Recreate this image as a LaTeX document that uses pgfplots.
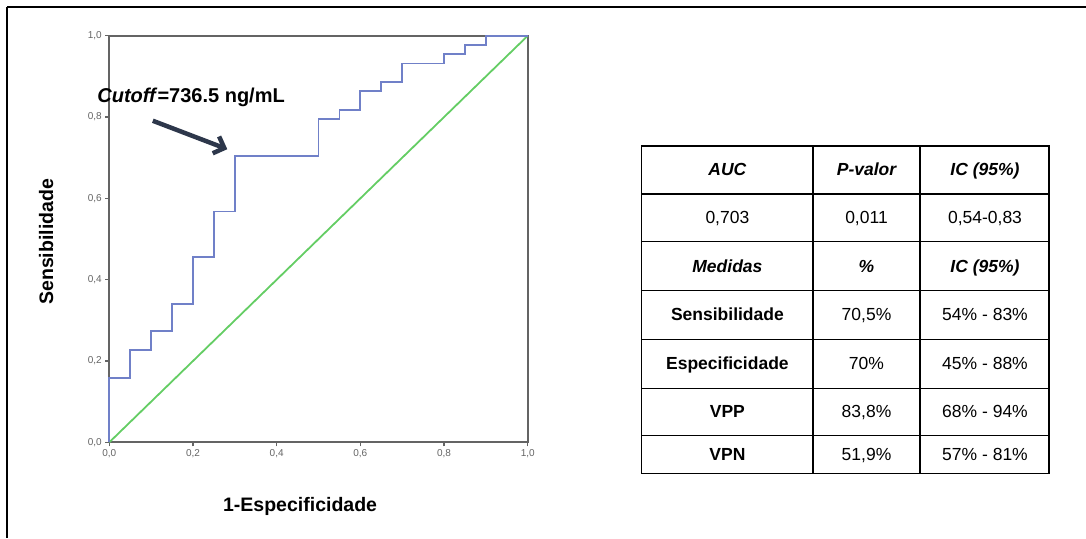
\documentclass[border=0pt]{standalone}
\usepackage{fontspec}
\setmainfont{Liberation Sans}
\usepackage{pgfplots}
\pgfplotsset{compat=1.18}
\usetikzlibrary{arrows.meta}
\definecolor{roc}{RGB}{112,128,200}
\definecolor{refl}{RGB}{100,205,100}
\definecolor{arr}{RGB}{45,55,75}
\definecolor{axg}{RGB}{100,100,100}
\begin{document}
\begin{tikzpicture}[x=1pt,y=1pt]
\useasboundingbox (0pt,0pt) rectangle (1086pt,538pt);
\draw[line width=2pt] (7pt,531pt) -- (1086pt,531pt);
\draw[line width=1.3pt] (7pt,531pt) -- (7pt,0pt);
\begin{axis}[at={(109.3pt,95.7pt)}, anchor=south west,
  scale only axis, width=418.4pt, height=406.5pt,
  xmin=0, xmax=1, ymin=0, ymax=1, clip=false,
  xtick={0,0.2,0.4,0.6,0.8,1}, ytick={0,0.2,0.4,0.6,0.8,1},
  xtick pos=bottom, ytick pos=left, tick align=outside,
  major tick length=4pt, tick style={axg, line width=1.2pt},
  axis line style={axg, line width=2pt},
  ticklabel style={font=\fontsize{10}{10}\selectfont, text=axg},
  /pgf/number format/use comma, /pgf/number format/fixed,
  /pgf/number format/fixed zerofill, /pgf/number format/precision=1,
  /pgf/number format/assume math mode=true,
  xlabel={1-Especificidade}, ylabel={Sensibilidade},
  label style={font=\bfseries\fontsize{19.5}{19.5}\selectfont},
  xlabel style={at={(axis description cs:0.456,-0.157)}, anchor=center},
  ylabel style={at={(axis description cs:-0.151,0.493)}, anchor=center},
]
\addplot[refl, line width=1.8pt] coordinates {(0,0) (1,1)};
\addplot[roc, line width=1.8pt] coordinates {
(0,0)(0,0.159)(0.05,0.159)(0.05,0.227)(0.10,0.227)(0.10,0.273)(0.15,0.273)(0.15,0.341)
(0.20,0.341)(0.20,0.455)(0.25,0.455)(0.25,0.568)(0.30,0.568)(0.30,0.705)(0.50,0.705)
(0.50,0.795)(0.55,0.795)(0.55,0.818)(0.60,0.818)(0.60,0.864)(0.65,0.864)(0.65,0.886)
(0.70,0.886)(0.70,0.932)(0.80,0.932)(0.80,0.955)(0.85,0.955)(0.85,0.977)(0.90,0.977)
(0.90,1)(1,1)};
\node[anchor=base west, font=\bfseries\fontsize{20}{20}\selectfont, inner sep=0pt]
  at (axis cs:-0.029,0.836) {\textit{Cutoff\/}=736.5 ng/mL};
\draw[arr, line width=4.5pt, -{Straight Barb[length=9pt,width=18pt]}]
  (axis cs:0.104,0.791) -- (axis cs:0.282,0.721);
\end{axis}
% table
\begin{scope}[line width=1.4pt]
\draw (641.7pt,392pt) rectangle (1049pt,64.7pt);
\foreach \yy in {344,296.3,247.3,198.7,149.7,102.3} \draw (641.7pt,\yy pt) -- (1049pt,\yy pt);
\draw (813pt,392pt) -- (813pt,64.7pt);
\draw (920pt,392pt) -- (920pt,64.7pt);
\end{scope}
\tikzset{tc/.style={anchor=base, inner sep=0pt, font=\fontsize{17.5}{17.5}\selectfont}}
\def\cA{727.4pt}\def\cB{866.5pt}\def\cC{985pt}
\node[tc] at (\cA,362pt) {\bfseries\itshape AUC};
\node[tc] at (\cB,362pt) {\bfseries\itshape P-valor};
\node[tc] at (\cC,362pt) {\bfseries\itshape IC (95\%)};
\node[tc] at (\cA,314.1pt) {0,703};
\node[tc] at (\cB,314.1pt) {0,011};
\node[tc] at (\cC,314.1pt) {0,54-0,83};
\node[tc] at (\cA,265.8pt) {\bfseries\itshape Medidas};
\node[tc] at (\cB,265.8pt) {\bfseries\itshape \%};
\node[tc] at (\cC,265.8pt) {\bfseries\itshape IC (95\%)};
\node[tc] at (\cA,217pt) {\bfseries Sensibilidade};
\node[tc] at (\cB,217pt) {70,5\%};
\node[tc] at (\cC,217pt) {54\% - 83\%};
\node[tc] at (\cA,168.2pt) {\bfseries Especificidade};
\node[tc] at (\cB,168.2pt) {70\%};
\node[tc] at (\cC,168.2pt) {45\% - 88\%};
\node[tc] at (\cA,120pt) {\bfseries VPP};
\node[tc] at (\cB,120pt) {83,8\%};
\node[tc] at (\cC,120pt) {68\% - 94\%};
\node[tc] at (\cA,77.5pt) {\bfseries VPN};
\node[tc] at (\cB,77.5pt) {51,9\%};
\node[tc] at (\cC,77.5pt) {57\% - 81\%};
\end{tikzpicture}
\end{document}
